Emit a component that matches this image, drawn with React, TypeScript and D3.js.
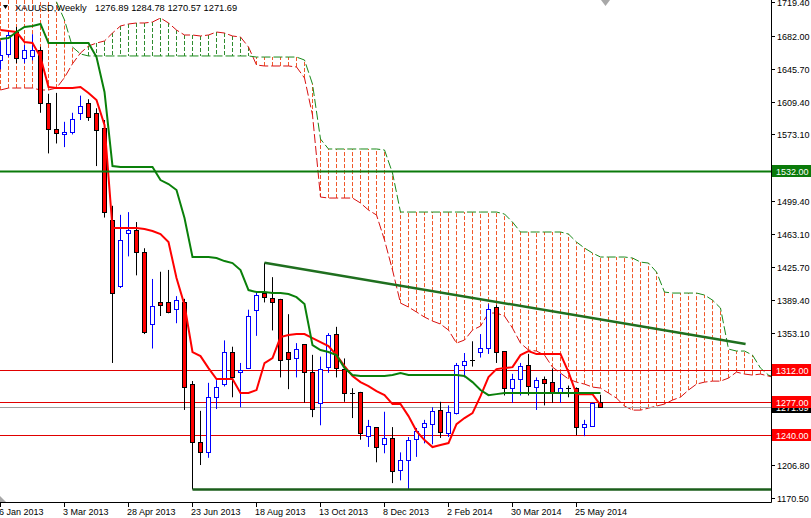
import React from 'react';
import * as d3 from 'd3';

const W = 811;
const H = 518;
const PLOT_R = 771;
const PLOT_B = 502;
const BAR = 8;

// ---- data ----
const dateLabels = ['6 Jan 2013', '3 Mar 2013', '28 Apr 2013', '23 Jun 2013', '18 Aug 2013', '13 Oct 2013', '8 Dec 2013', '2 Feb 2014', '30 Mar 2014', '25 May 2014'];
const dateLabelIdx = [0, 8, 16, 24, 32, 40, 48, 56, 64, 72];
const priceTicks = [1719.4, 1682.0, 1645.7, 1609.4, 1573.1, 1536.8, 1499.4, 1463.1, 1425.7, 1389.4, 1353.1, 1316.8, 1279.4, 1243.1, 1206.8, 1170.5];

const opens = [1655, 1662, 1686, 1658, 1660, 1666, 1608, 1579, 1574, 1576, 1597, 1608, 1597, 1580, 1478, 1405, 1464, 1467, 1443, 1363, 1387, 1388, 1380, 1387, 1297, 1232, 1221, 1282, 1297, 1332, 1310, 1314, 1379, 1397, 1392, 1391, 1332, 1326, 1341, 1310, 1276, 1315, 1352, 1313, 1287, 1288, 1239, 1249, 1230, 1237, 1202, 1213, 1236, 1249, 1252, 1268, 1242, 1265, 1318, 1323, 1332, 1337, 1382, 1333, 1292, 1302, 1318, 1293, 1302, 1299, 1288, 1292, 1292, 1249, 1250, 1276.89];
const highs = [1676, 1687, 1692, 1672, 1684, 1670, 1618, 1619, 1587, 1597, 1616, 1612, 1602, 1589, 1494, 1484, 1487, 1476, 1447, 1413, 1421, 1423, 1394, 1391, 1300, 1267, 1298, 1301, 1345, 1338, 1320, 1379, 1398, 1431, 1415, 1391, 1374, 1342, 1341, 1329, 1327, 1353, 1360, 1325, 1292, 1288, 1257, 1249, 1266, 1249, 1221, 1238, 1248, 1257, 1271, 1277, 1273, 1320, 1331, 1344, 1352, 1385, 1384, 1333, 1308, 1320, 1330, 1304, 1305, 1314, 1308, 1295, 1293, 1257, 1276, 1284.78];
const lows = [1645, 1659, 1652, 1652, 1655, 1597, 1552, 1563, 1559, 1573, 1589, 1588, 1538, 1481, 1320, 1403, 1438, 1417, 1352, 1336, 1372, 1375, 1364, 1268, 1180, 1207, 1215, 1269, 1294, 1282, 1271, 1314, 1350, 1387, 1356, 1304, 1291, 1304, 1276, 1260, 1251, 1309, 1304, 1277, 1259, 1235, 1227, 1210, 1220, 1187, 1190, 1180, 1216, 1231, 1230, 1237, 1238, 1263, 1304, 1316, 1326, 1330, 1320, 1284, 1276, 1284, 1284, 1268, 1273, 1276, 1276, 1282, 1240, 1239, 1250, 1270.57];
const closes = [1661, 1683, 1658, 1666, 1667, 1608, 1579, 1575, 1576, 1590, 1605, 1592, 1578, 1487, 1398, 1456, 1467, 1443, 1354, 1383, 1384, 1376, 1390, 1293, 1232, 1221, 1282, 1293, 1332, 1305, 1312, 1372, 1395, 1393, 1387, 1323, 1324, 1335, 1310, 1269, 1313, 1351, 1314, 1287, 1287, 1242, 1250, 1227, 1237, 1200, 1213, 1235, 1245, 1253, 1267, 1244, 1266, 1318, 1322, 1323, 1337, 1380, 1332, 1292, 1302, 1317, 1294, 1301, 1298, 1288, 1292, 1292, 1249, 1252, 1276, 1271.69];

const tenkan = [1688.6, 1687.5, 1686.4, 1675.4, 1674.2, 1658.7, 1625.5, 1624.4, 1624.4, 1624.4, 1625.5, 1618.9, 1611.1, 1583.5, 1469.4, 1469.4, 1469.4, 1469.4, 1468.3, 1466.1, 1462.7, 1453.9, 1414.0, 1384.1, 1332.1, 1327.6, 1314.3, 1302.2, 1302.2, 1302.2, 1286.7, 1286.7, 1290.0, 1319.9, 1325.4, 1348.7, 1350.9, 1352.0, 1352.0, 1347.6, 1343.1, 1338.7, 1328.7, 1316.6, 1305.5, 1298.8, 1294.4, 1288.9, 1284.4, 1274.5, 1274.5, 1261.2, 1244.6, 1234.6, 1226.9, 1229.1, 1231.3, 1252.3, 1259.0, 1264.5, 1283.3, 1304.4, 1313.2, 1314.3, 1315.4, 1328.7, 1333.2, 1329.8, 1329.8, 1329.8, 1329.8, 1309.9, 1285.5, 1285.5, 1285.5, 1273.4];
const kijun = [1678.7, 1679.8, 1686.4, 1692.0, 1693.1, 1695.3, 1674.2, 1674.2, 1674.2, 1674.2, 1674.2, 1674.2, 1658.7, 1620.0, 1538.0, 1536.9, 1536.9, 1536.9, 1536.9, 1536.9, 1522.5, 1518.1, 1511.5, 1480.5, 1437.3, 1437.3, 1437.3, 1436.2, 1432.8, 1430.6, 1422.9, 1400.7, 1398.5, 1398.5, 1397.4, 1397.4, 1396.3, 1392.9, 1385.2, 1339.8, 1334.3, 1332.1, 1328.7, 1314.3, 1306.6, 1305.5, 1305.5, 1305.5, 1305.5, 1306.6, 1308.8, 1306.6, 1306.6, 1306.6, 1306.6, 1306.6, 1306.6, 1306.6, 1305.5, 1298.8, 1290.0, 1284.4, 1285.5, 1286.7, 1286.7, 1286.7, 1286.7, 1286.7, 1286.7, 1286.7, 1286.7, 1286.7, 1286.7, 1286.7, 1286.7, 1286.7];
const spanA = [1622.2, 1624.4, 1624.4, 1624.4, 1624.4, 1622.2, 1622.2, 1624.4, 1636.0, 1651.3, 1663.2, 1670.9, 1674.2, 1676.5, 1685.3, 1693.1, 1695.3, 1696.4, 1696.4, 1697.5, 1701.9, 1696.4, 1688.6, 1683.1, 1683.1, 1682.0, 1683.1, 1686.4, 1685.3, 1682.0, 1680.9, 1669.8, 1649.9, 1648.8, 1648.8, 1648.8, 1648.8, 1647.7, 1635.5, 1594.5, 1503.7, 1502.6, 1502.6, 1502.6, 1502.6, 1497.1, 1489.3, 1483.8, 1456.1, 1422.9, 1386.3, 1381.9, 1376.4, 1370.8, 1366.4, 1363.1, 1356.4, 1342.0, 1345.4, 1356.4, 1360.8, 1375.3, 1375.3, 1371.9, 1358.6, 1342.0, 1334.3, 1333.2, 1328.7, 1315.4, 1308.8, 1302.2, 1298.8, 1296.6, 1293.3, 1292.2, 1286.7, 1281.1, 1272.3, 1267.8, 1267.8, 1270.0, 1272.3, 1274.5, 1278.9, 1282.2, 1290.0, 1296.6, 1298.8, 1299.9, 1299.9, 1303.3, 1309.9, 1307.7, 1306.6, 1307.7, 1305.5, 1303.3];
const spanB = [1745, 1745, 1745, 1745, 1745, 1745, 1745, 1719.7, 1699.7, 1669.8, 1662.1, 1659.9, 1659.9, 1659.9, 1659.9, 1659.9, 1659.9, 1659.9, 1659.9, 1659.9, 1659.9, 1659.9, 1659.9, 1659.9, 1659.9, 1659.9, 1659.9, 1659.9, 1659.9, 1659.9, 1659.9, 1659.9, 1658.7, 1658.7, 1658.7, 1658.7, 1658.7, 1658.7, 1655.4, 1628.8, 1567.9, 1556.9, 1556.9, 1556.9, 1556.9, 1556.9, 1556.9, 1556.9, 1555.8, 1530.3, 1487.1, 1487.1, 1487.1, 1487.1, 1487.1, 1487.1, 1487.1, 1487.1, 1487.1, 1487.1, 1487.1, 1487.1, 1487.1, 1484.9, 1476.0, 1465.0, 1465.0, 1465.0, 1465.0, 1465.0, 1465.0, 1462.7, 1453.9, 1447.2, 1441.7, 1437.3, 1437.3, 1437.3, 1437.3, 1436.2, 1431.7, 1430.6, 1420.7, 1398.5, 1397.4, 1397.4, 1397.4, 1397.4, 1395.2, 1389.6, 1380.8, 1335.4, 1333.2, 1333.2, 1328.7, 1314.3, 1306.6, 1303.3];

const redLevels = [1312, 1277, 1240];
const resistanceLevel = 1532;
const bidPrice = 1271.69;
const supportStartIdx = 24;
const supportPrice = 1180;
const trendIdx = [33, 93.2];
const trendPrice = [1431, 1341];

const header = 'XAUUSD,Weekly';
const headerValues = '1276.89 1284.78 1270.57 1271.69';

const FONT = '"Liberation Sans", Arial, sans-serif';

export default function App() {
  const x = d3.scaleLinear().domain([0, 1]).range([0, BAR]);
  const y = d3.scaleLinear().domain([1170.5, 1682]).range([498, 36]);
  const cx = (i: number) => Math.round(x(i)) + 0.5;
  const cy = (p: number) => Math.round(y(p)) + 0.5;

  const lineGen = (arr: number[]) =>
    d3.line<number>().x((_, i) => x(i) + 0.5).y((d) => y(d))(arr) || '';

  const hatch = spanA.map((a, i) => {
    const b = spanB[i];
    return (
      <line key={'h' + i} x1={cx(i)} x2={cx(i)} y1={y(a)} y2={y(b)}
        stroke={a > b ? '#2e8b2e' : '#f0582a'} strokeWidth={1} strokeDasharray="4,2" />
    );
  });

  const candles = opens.map((o, i) => {
    const c = closes[i];
    const hi = highs[i];
    const lo = lows[i];
    const xc = cx(i);
    const bull = c > o;
    const bear = c < o;
    const wickColor = bull ? '#0000ff' : '#000000';
    const top = cy(Math.max(o, c));
    const bot = cy(Math.min(o, c));
    return (
      <g key={'c' + i}>
        <line x1={xc} x2={xc} y1={y(hi)} y2={y(lo)} stroke={wickColor} strokeWidth={1} />
        {bull || bear ? (
          <rect x={xc - 2} y={top} width={4} height={Math.max(bot - top, 1)}
            fill={bull ? '#ffffff' : '#ff0000'} stroke={bull ? '#0000ff' : '#000000'} strokeWidth={1} />
        ) : (
          <line x1={xc - 2.5} x2={xc + 2.5} y1={top} y2={top} stroke="#000000" strokeWidth={1} />
        )}
      </g>
    );
  });

  const labelBox = (p: number, fill: string, text: string, key: string) => {
    const yc = y(p);
    return (
      <g key={key}>
        <rect x={772} y={Math.round(yc) - 6} width={40} height={12} fill={fill} />
        <text x={776} y={Math.round(yc) + 3.5} fontSize={9} fontFamily={FONT} fill="#ffffff">{text}</text>
      </g>
    );
  };

  return (
    <svg width={W} height={H} style={{ position: 'absolute', left: 0, top: 0, background: '#ffffff' }}>
      <rect x={0} y={0} width={W} height={H} fill="#ffffff" />
      <defs>
        <clipPath id="plot">
          <rect x={0} y={0} width={PLOT_R} height={PLOT_B} />
        </clipPath>
      </defs>
      <g clipPath="url(#plot)">
        {hatch}
        <path d={lineGen(spanA)} fill="none" stroke="#d81010" strokeWidth={1} strokeDasharray="9,3" />
        <path d={lineGen(spanB)} fill="none" stroke="#1a8a1a" strokeWidth={1} strokeDasharray="9,3" />

        {redLevels.map((p) => (
          <line key={'r' + p} x1={0} x2={PLOT_R} y1={cy(p)} y2={cy(p)} stroke="#e00000" strokeWidth={1} />
        ))}
        <line x1={0} x2={PLOT_R} y1={cy(bidPrice)} y2={cy(bidPrice)} stroke="#a0a0a0" strokeWidth={1} />

        {candles}

        <path d={lineGen(tenkan)} fill="none" stroke="#ff0000" strokeWidth={2} />
        <path d={lineGen(kijun)} fill="none" stroke="#0a800a" strokeWidth={2} />

        <line x1={0} x2={PLOT_R} y1={y(resistanceLevel)} y2={y(resistanceLevel)} stroke="#0a7a0a" strokeWidth={2.2} />
        <line x1={x(supportStartIdx) + 0.5} x2={PLOT_R} y1={y(supportPrice)} y2={y(supportPrice)} stroke="#1b5e1b" strokeWidth={2.5} />
        <line x1={x(trendIdx[0]) + 0.5} x2={x(trendIdx[1])} y1={y(trendPrice[0])} y2={y(trendPrice[1])} stroke="#1f6f1f" strokeWidth={2.5} />
      </g>

      {/* header */}
      <path d="M3,5 L8,5 L5.5,9 Z" fill="#000000" />
      <text x={15} y={11} fontSize={9.3} fontFamily={FONT} fill="#000000">{header}</text>
      <text x={95} y={11} fontSize={9.3} fontFamily={FONT} fill="#000000">{headerValues}</text>

      {/* chart shift markers */}
      <path d="M601,0 L610,0 L605.5,6 Z" fill="#a8a8a8" />
      <path d="M0,496 L6,502 L0,502 Z" fill="#a8a8a8" />

      {/* axes */}
      <line x1={PLOT_R + 0.5} x2={PLOT_R + 0.5} y1={0} y2={PLOT_B + 0.5} stroke="#000000" strokeWidth={1} />
      <line x1={0} x2={PLOT_R + 0.5} y1={PLOT_B + 0.5} y2={PLOT_B + 0.5} stroke="#000000" strokeWidth={1} />

      {priceTicks.map((p) => (
        <g key={'t' + p}>
          <line x1={772} x2={775} y1={cy(p)} y2={cy(p)} stroke="#000000" strokeWidth={1} />
          <text x={777} y={Math.round(y(p)) + 3.5} fontSize={9} fontFamily={FONT} fill="#000000">{p.toFixed(2)}</text>
        </g>
      ))}

      {dateLabelIdx.map((idx, k) => (
        <g key={'d' + idx}>
          <line x1={cx(idx)} x2={cx(idx)} y1={PLOT_B} y2={PLOT_B + 5} stroke="#000000" strokeWidth={1} />
          <text x={x(idx) - 1} y={515} fontSize={9} fontFamily={FONT} fill="#000000">{dateLabels[k]}</text>
        </g>
      ))}

      {/* price label boxes */}
      {labelBox(resistanceLevel, '#0a7a0a', resistanceLevel.toFixed(2), 'lb1532')}
      {labelBox(bidPrice, '#000000', bidPrice.toFixed(2), 'lbbid')}
      {redLevels.map((p) => labelBox(p, '#ff0000', p.toFixed(2), 'lb' + p))}
    </svg>
  );
}
